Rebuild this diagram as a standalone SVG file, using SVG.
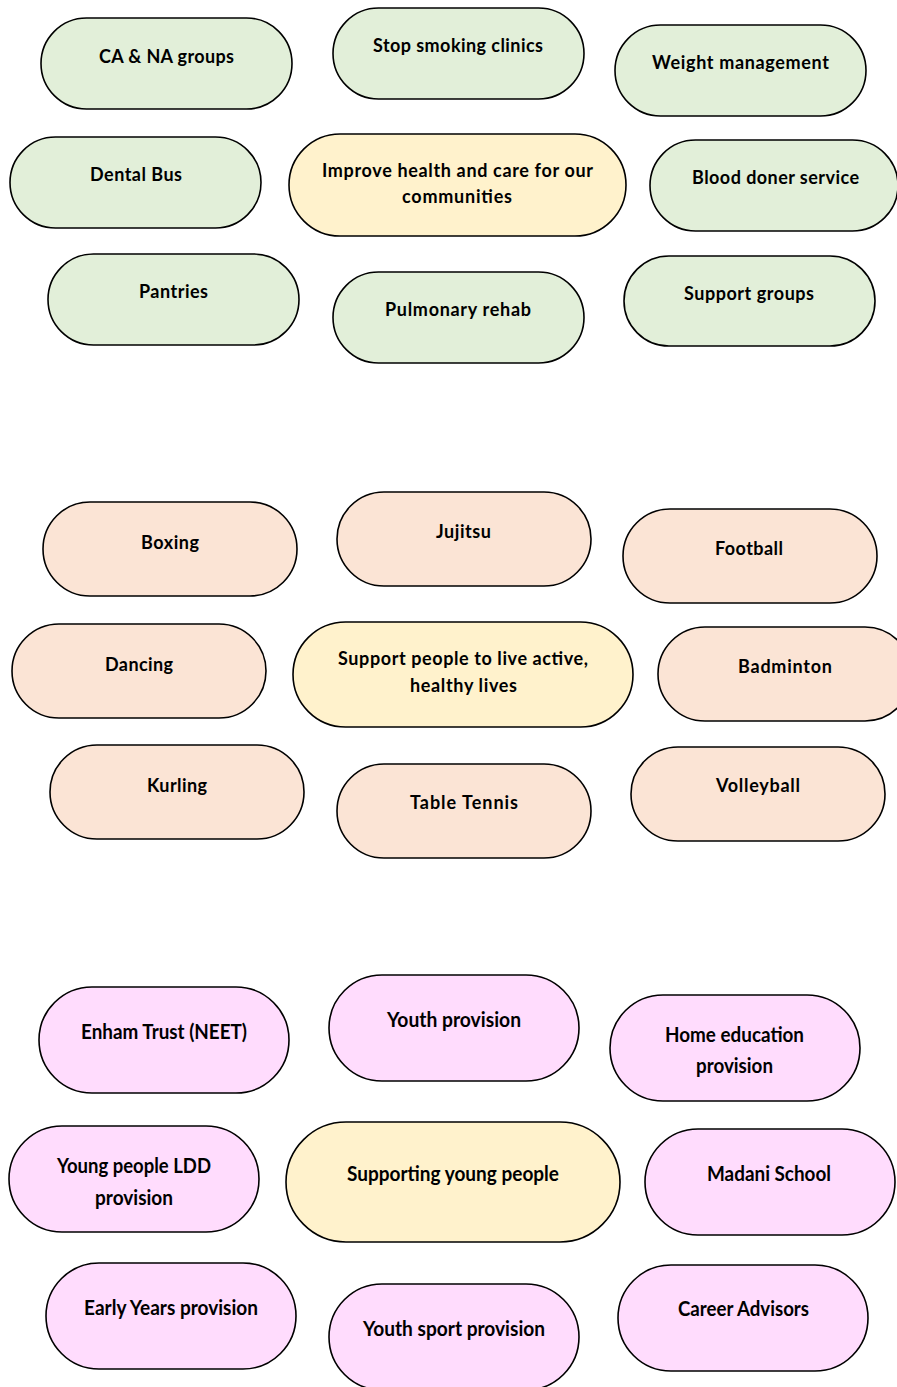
<svg xmlns="http://www.w3.org/2000/svg" width="897" height="1387" viewBox="0 0 897 1387">
<style>
rect{stroke:#000;stroke-width:1.6}
.g{fill:#E2EFD9}
.p{fill:#FBE4D5}
.y{fill:#FFF2CC}
.m{fill:#FFDCFD}
text{font-family:Lato,"Liberation Sans",sans-serif;font-weight:bold;fill:#000;text-anchor:middle}
.a{font-size:18px}
.c{font-size:20px}
</style>
<rect x="0" y="0" width="897" height="1387" fill="#fff" style="stroke:none"/>
<g id="connectors"/>
<g id="n_ca"><rect class="g" x="41" y="18" width="251" height="91" rx="45.5"/><text class="a" x="166.5" y="62.5" textLength="135">CA &amp; NA groups</text></g>
<g id="n_stop"><rect class="g" x="333" y="8" width="251" height="91" rx="45.5"/><text class="a" x="458" y="52" textLength="170">Stop smoking clinics</text></g>
<g id="n_weight"><rect class="g" x="615" y="25" width="251" height="91" rx="45.5"/><text class="a" x="740.5" y="69" textLength="177">Weight management</text></g>
<g id="n_dental"><rect class="g" x="10" y="137" width="251" height="91" rx="45.5"/><text class="a" x="136" y="181" textLength="92">Dental Bus</text></g>
<g id="n_improve"><rect class="y" x="289" y="134" width="337" height="102" rx="51"/><text class="a" x="457.5" y="176.5" textLength="271">Improve health and care for our</text><text class="a" x="457" y="202.5" textLength="110">communities</text></g>
<g id="n_blood"><rect class="g" x="650" y="140" width="248" height="91" rx="45.5"/><text class="a" x="775.5" y="184" textLength="167">Blood doner service</text></g>
<g id="n_pantries"><rect class="g" x="48" y="254" width="251" height="91" rx="45.5"/><text class="a" x="173.5" y="297.5" textLength="69">Pantries</text></g>
<g id="n_pulmonary"><rect class="g" x="333" y="272" width="251" height="91" rx="45.5"/><text class="a" x="458" y="316" textLength="146">Pulmonary rehab</text></g>
<g id="n_support"><rect class="g" x="624" y="256" width="251" height="90" rx="45"/><text class="a" x="749" y="300" textLength="130">Support groups</text></g>

<g id="n_boxing"><rect class="p" x="43" y="502" width="254" height="94" rx="47"/><text class="a" x="170" y="548.5" textLength="58">Boxing</text></g>
<g id="n_jujitsu"><rect class="p" x="337" y="492" width="254" height="94" rx="47"/><text class="a" x="463.5" y="538" textLength="55">Jujitsu</text></g>
<g id="n_football"><rect class="p" x="623" y="509" width="254" height="94" rx="47"/><text class="a" x="749" y="555" textLength="68">Football</text></g>
<g id="n_dancing"><rect class="p" x="12" y="624" width="254" height="94" rx="47"/><text class="a" x="139" y="670.5" textLength="68">Dancing</text></g>
<g id="n_active"><rect class="y" x="293" y="622" width="340" height="105" rx="52.5"/><text class="a" x="463" y="665" textLength="250">Support people to live active,</text><text class="a" x="463.5" y="692" textLength="107">healthy lives</text></g>
<g id="n_badminton"><rect class="p" x="658" y="627" width="254" height="94" rx="47"/><text class="a" x="785" y="673" textLength="94">Badminton</text></g>
<g id="n_kurling"><rect class="p" x="50" y="745" width="254" height="94" rx="47"/><text class="a" x="177" y="791.5" textLength="60">Kurling</text></g>
<g id="n_tabletennis"><rect class="p" x="337" y="764" width="254" height="94" rx="47"/><text class="a" x="464" y="809" textLength="108">Table Tennis</text></g>
<g id="n_volleyball"><rect class="p" x="631" y="747" width="254" height="94" rx="47"/><text class="a" x="758" y="792" textLength="84">Volleyball</text></g>

<g id="n_enham"><rect class="m" x="39" y="987" width="250" height="106" rx="53"/><text class="c" x="164" y="1039" textLength="166" lengthAdjust="spacingAndGlyphs">Enham Trust (NEET)</text></g>
<g id="n_youth"><rect class="m" x="329" y="975" width="250" height="106" rx="53"/><text class="c" x="454" y="1026.5" textLength="134" lengthAdjust="spacingAndGlyphs">Youth provision</text></g>
<g id="n_home"><rect class="m" x="610" y="995" width="250" height="106" rx="53"/><text class="c" x="734.5" y="1041.5" textLength="139" lengthAdjust="spacingAndGlyphs">Home education</text><text class="c" x="734.5" y="1073" textLength="77" lengthAdjust="spacingAndGlyphs">provision</text></g>
<g id="n_ldd"><rect class="m" x="9" y="1126" width="250" height="106" rx="53"/><text class="c" x="134" y="1172.5" textLength="154" lengthAdjust="spacingAndGlyphs">Young people LDD</text><text class="c" x="134" y="1205" textLength="78" lengthAdjust="spacingAndGlyphs">provision</text></g>
<g id="n_young"><rect class="y" x="286" y="1122" width="334" height="120" rx="60"/><text class="c" x="453" y="1180.5" textLength="212" lengthAdjust="spacingAndGlyphs">Supporting young people</text></g>
<g id="n_madani"><rect class="m" x="645" y="1129" width="250" height="106" rx="53"/><text class="c" x="769" y="1180.5" textLength="124" lengthAdjust="spacingAndGlyphs">Madani School</text></g>
<g id="n_early"><rect class="m" x="46" y="1263" width="250" height="106" rx="53"/><text class="c" x="171" y="1315" textLength="174" lengthAdjust="spacingAndGlyphs">Early Years provision</text></g>
<g id="n_sport"><rect class="m" x="329" y="1284" width="250" height="106" rx="53"/><text class="c" x="454" y="1336" textLength="182" lengthAdjust="spacingAndGlyphs">Youth sport provision</text></g>
<g id="n_career"><rect class="m" x="618" y="1265" width="250" height="106" rx="53"/><text class="c" x="743.5" y="1316" textLength="131" lengthAdjust="spacingAndGlyphs">Career Advisors</text></g>
</svg>
